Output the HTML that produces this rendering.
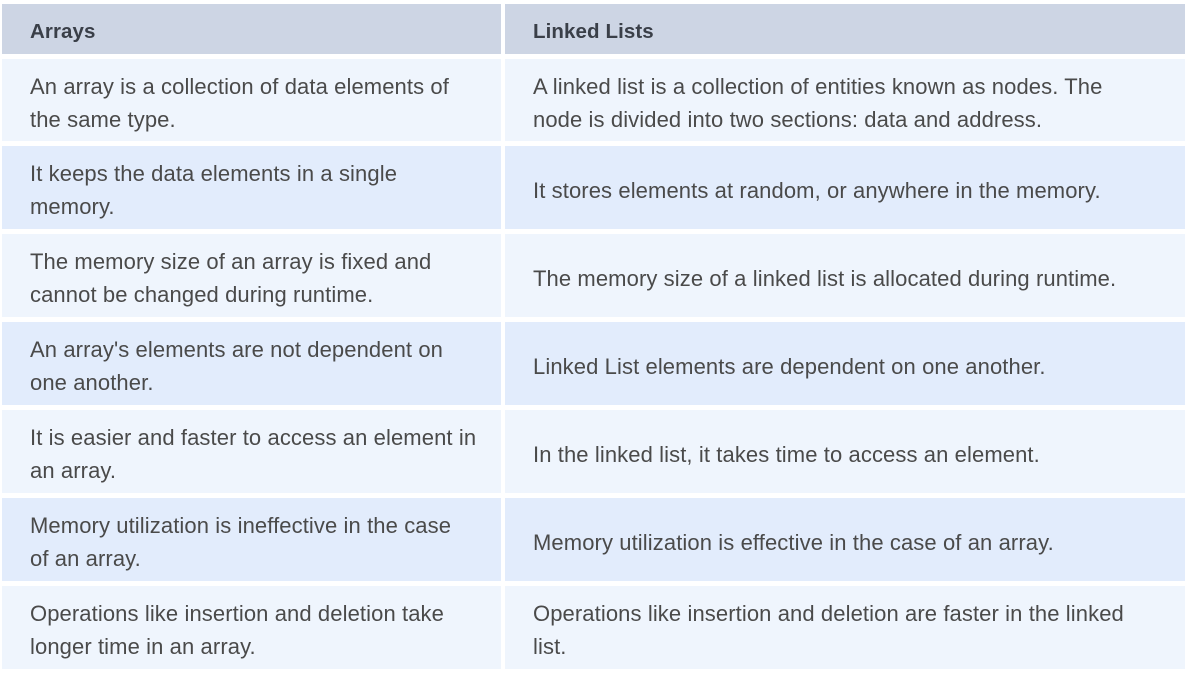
<!DOCTYPE html>
<html><head><style>
body{margin:0;width:1185px;height:673px;background:#fff;font-family:"Liberation Sans",sans-serif;overflow:hidden}
.c{position:absolute;box-sizing:border-box;padding-left:28px;padding-top:5px;display:flex;align-items:center;font-size:22px;line-height:33px;color:#4a4a4a;letter-spacing:0.1px}
.h{background:#cdd5e4;font-weight:bold;color:#3a3f48;font-size:20.5px;padding-top:4px}
.a{background:#eff5fd}.b{background:#e2ecfc}
.l{left:2px;width:499px}.r{left:505px;width:680px}
</style></head><body>
<div class="c h l" style="top:4px;height:50px">Arrays</div>
<div class="c h r" style="top:4px;height:50px">Linked Lists</div>

<div class="c a l" style="top:59px;height:82px">An array is a collection of data elements of<br>the same type.</div>
<div class="c a r" style="top:59px;height:82px">A linked list is a collection of entities known as nodes. The<br>node is divided into two sections: data and address.</div>

<div class="c b l" style="top:146px;height:83px">It keeps the data elements in a single<br>memory.</div>
<div class="c b r" style="top:146px;height:83px">It stores elements at random, or anywhere in the memory.</div>

<div class="c a l" style="top:234px;height:83px">The memory size of an array is fixed and<br>cannot be changed during runtime.</div>
<div class="c a r" style="top:234px;height:83px">The memory size of a linked list is allocated during runtime.</div>

<div class="c b l" style="top:322px;height:83px">An array's elements are not dependent on<br>one another.</div>
<div class="c b r" style="top:322px;height:83px">Linked List elements are dependent on one another.</div>

<div class="c a l" style="top:410px;height:83px">It is easier and faster to access an element in<br>an array.</div>
<div class="c a r" style="top:410px;height:83px">In the linked list, it takes time to access an element.</div>

<div class="c b l" style="top:498px;height:83px">Memory utilization is ineffective in the case<br>of an array.</div>
<div class="c b r" style="top:498px;height:83px">Memory utilization is effective in the case of an array.</div>

<div class="c a l" style="top:586px;height:83px">Operations like insertion and deletion take<br>longer time in an array.</div>
<div class="c a r" style="top:586px;height:83px">Operations like insertion and deletion are faster in the linked<br>list.</div>
</body></html>
